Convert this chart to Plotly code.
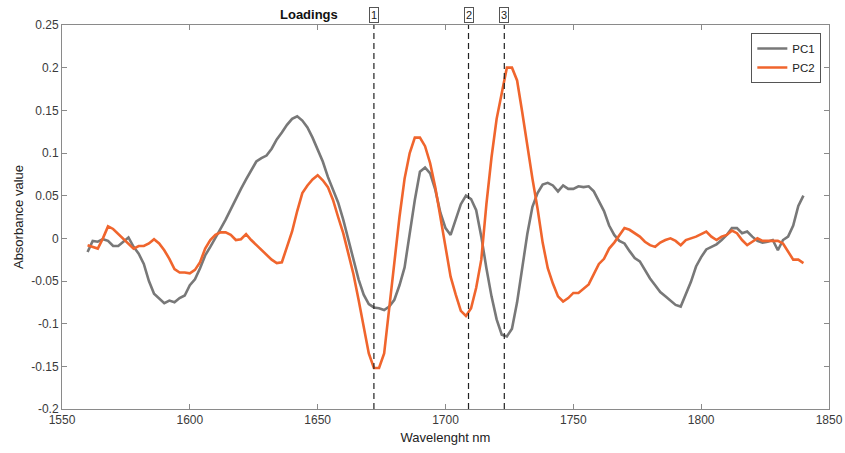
import plotly.graph_objects as go

wavelength = list(range(1560, 1841, 2))

pc1 = [-0.016, -0.003, -0.004, -0.001, -0.003, -0.009, -0.009, -0.004, 0.001, -0.010,
       -0.018, -0.030, -0.050, -0.065, -0.071, -0.076, -0.073, -0.075, -0.070, -0.067,
       -0.055, -0.048, -0.035, -0.020, -0.010, 0.000, 0.011, 0.022, 0.034, 0.047,
       0.058, 0.069, 0.080, 0.090, 0.094, 0.097, 0.105, 0.116, 0.124, 0.133,
       0.140, 0.143, 0.138, 0.130, 0.118, 0.103, 0.090, 0.072, 0.058, 0.042,
       0.022, -0.002, -0.025, -0.048, -0.066, -0.077, -0.081, -0.082, -0.084, -0.080,
       -0.072, -0.055, -0.034, 0.005, 0.045, 0.078, 0.083, 0.076, 0.057, 0.030,
       0.012, 0.004, 0.022, 0.040, 0.050, 0.046, 0.033, 0.002, -0.035, -0.068,
       -0.095, -0.113, -0.115, -0.106, -0.075, -0.032, 0.005, 0.037, 0.053, 0.063,
       0.065, 0.062, 0.055, 0.062, 0.058, 0.058, 0.061, 0.060, 0.061, 0.055,
       0.044, 0.032, 0.015, 0.004, -0.003, -0.006, -0.015, -0.023, -0.027, -0.037,
       -0.047, -0.055, -0.063, -0.068, -0.073, -0.078, -0.080, -0.066, -0.051, -0.033,
       -0.022, -0.013, -0.010, -0.007, -0.002, 0.004, 0.012, 0.012, 0.006, 0.008,
       0.002, -0.003, -0.005, -0.004, -0.002, -0.014, -0.002, 0.002, 0.015, 0.038,
       0.050]

pc2 = [-0.008, -0.010, -0.012, 0.000, 0.014, 0.011, 0.005, -0.001, -0.006, -0.012,
       -0.009, -0.009, -0.006, -0.001, -0.006, -0.014, -0.024, -0.036, -0.040, -0.040,
       -0.041, -0.037, -0.028, -0.012, -0.002, 0.004, 0.007, 0.007, 0.004, -0.002,
       -0.001, 0.005, -0.002, -0.008, -0.014, -0.020, -0.025, -0.029, -0.028, -0.010,
       0.008, 0.032, 0.053, 0.062, 0.069, 0.074, 0.068, 0.060, 0.045, 0.025,
       0.006, -0.018, -0.042, -0.072, -0.105, -0.135, -0.152, -0.152, -0.135, -0.080,
       -0.022, 0.025, 0.070, 0.100, 0.118, 0.118, 0.108, 0.088, 0.060, 0.025,
       -0.006, -0.045, -0.066, -0.085, -0.091, -0.082, -0.058, -0.025, 0.040, 0.095,
       0.140, 0.172, 0.200, 0.200, 0.185, 0.148, 0.108, 0.070, 0.035, -0.005,
       -0.035, -0.053, -0.068, -0.074, -0.070, -0.064, -0.064, -0.059, -0.054, -0.042,
       -0.030, -0.024, -0.012, -0.005, 0.003, 0.012, 0.010, 0.006, 0.002, -0.004,
       -0.008, -0.010, -0.005, -0.002, 0.000, -0.003, -0.008, -0.002, 0.000, 0.002,
       0.005, 0.008, 0.002, -0.002, 0.002, 0.004, 0.009, 0.006, -0.002, -0.008,
       -0.004, 0.000, -0.003, -0.003, -0.003, -0.003, -0.006, -0.016, -0.025, -0.025,
       -0.029]

marker_wavelengths = [1672, 1709, 1723]
marker_labels = ["1", "2", "3"]

x_ticks = [1550, 1600, 1650, 1700, 1750, 1800, 1850]
y_ticks = [-0.2, -0.15, -0.1, -0.05, 0, 0.05, 0.1, 0.15, 0.2, 0.25]
y_tick_labels = ["-0.2", "-0.15", "-0.1", "-0.05", "0", "0.05", "0.1", "0.15", "0.2", "0.25"]

GRAY = "#787878"
ORANGE = "#f0652d"
AXIS = "#8a8a8a"
TEXT = "#3a3a3a"
FONT = "Liberation Sans, Arial, sans-serif"

fig = go.Figure()
fig.add_trace(go.Scatter(x=wavelength, y=pc1, mode="lines", name="PC1",
                         line=dict(color=GRAY, width=2.6)))
fig.add_trace(go.Scatter(x=wavelength, y=pc2, mode="lines", name="PC2",
                         line=dict(color=ORANGE, width=2.6)))

for wl, lab in zip(marker_wavelengths, marker_labels):
    fig.add_shape(type="line", xref="x", yref="paper", x0=wl, x1=wl, y0=0, y1=1,
                  line=dict(color="#222222", width=1.2, dash="6px,4px"), layer="above")
    fig.add_annotation(x=wl, xref="x", y=1, yref="paper", yanchor="bottom", yshift=2,
                       text=lab, showarrow=False,
                       font=dict(family=FONT, size=11, color="#222222"),
                       bordercolor="#555555", borderwidth=1, borderpad=1,
                       bgcolor="white")

fig.add_annotation(x=1646.6, xref="x", y=1, yref="paper", yanchor="bottom", yshift=1,
                   text="<b>Loadings</b>", showarrow=False,
                   font=dict(family=FONT, size=13, color="#111111"))

fig.update_layout(
    width=845, height=453,
    margin=dict(l=62, r=16, t=25, b=44, autoexpand=False),
    paper_bgcolor="white", plot_bgcolor="white",
    font=dict(family=FONT, size=12, color=TEXT),
    showlegend=True,
    legend=dict(x=0.99, y=0.979, xanchor="right", yanchor="top",
                bgcolor="white", bordercolor="#555555", borderwidth=1,
                font=dict(family=FONT, size=11.5, color="#222222"),
                itemwidth=30, tracegroupgap=0),
    xaxis=dict(range=[1550, 1850], tickvals=x_ticks, ticks="inside", ticklen=5,
               tickcolor=AXIS, showline=True, linecolor=AXIS, linewidth=1,
               mirror="ticks", showgrid=False, zeroline=False, automargin=False,
               tickfont=dict(family=FONT, size=12, color=TEXT),
               title=dict(text="Wavelenght nm", standoff=6,
                          font=dict(family=FONT, size=13, color="#222222"))),
    yaxis=dict(range=[-0.2, 0.25], tickvals=y_ticks, ticktext=y_tick_labels,
               ticks="inside", ticklen=5, tickcolor=AXIS, showline=True,
               linecolor=AXIS, linewidth=1, mirror="ticks", showgrid=False,
               zeroline=False, automargin=False,
               tickfont=dict(family=FONT, size=12, color=TEXT),
               title=dict(text="Absorbance value", standoff=4,
                          font=dict(family=FONT, size=13, color="#222222"))),
)

fig.write_html("out.html")
